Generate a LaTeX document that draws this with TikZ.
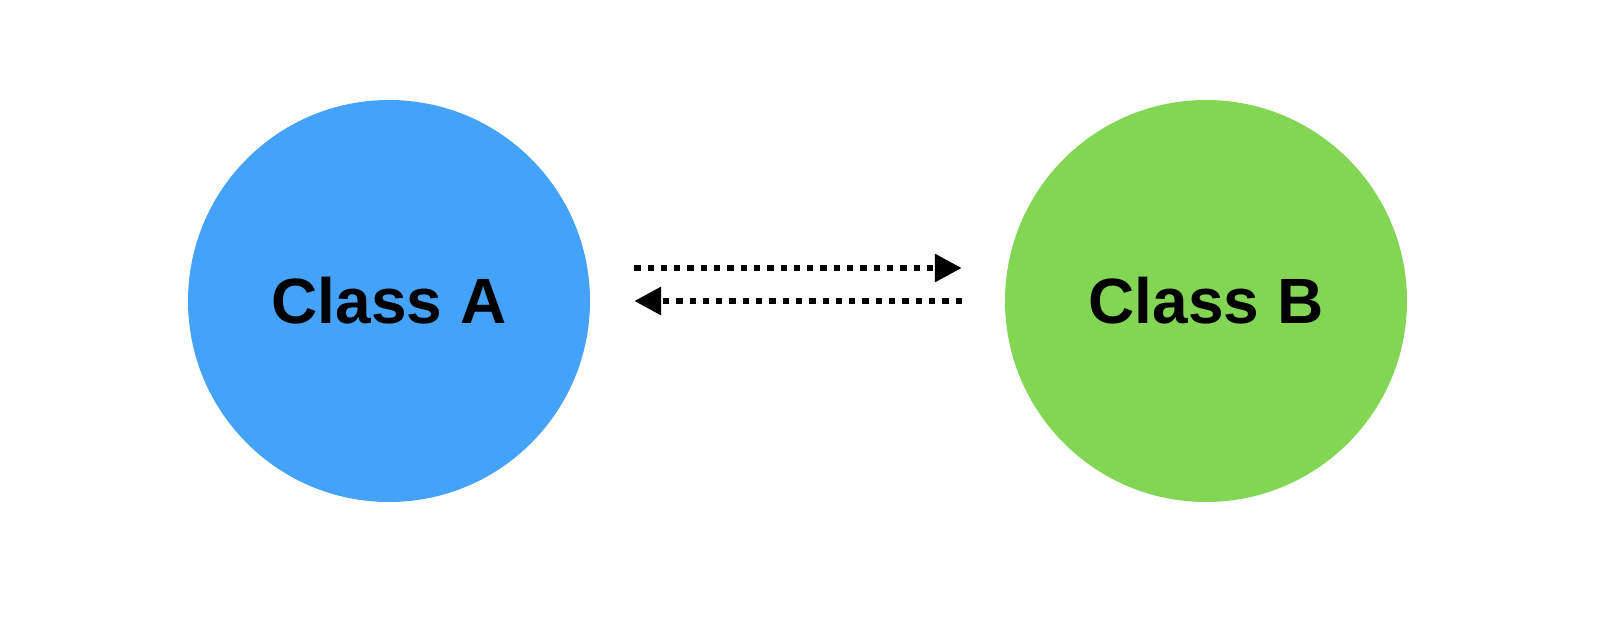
\documentclass[tikz,border=0pt]{standalone}
\usepackage{fontspec}
\setmainfont{Liberation Sans}
\usetikzlibrary{arrows.meta}
\definecolor{blueA}{RGB}{68,162,248}
\definecolor{greenB}{RGB}{131,214,84}
\tikzset{
  classnode/.style={circle, minimum size=402pt, inner sep=0pt, draw=none,
    font=\fontsize{64}{70}\selectfont\bfseries, text=black},
  dotlink/.style={line width=6.2pt, dash pattern=on 6.3pt off 7pt,
    -{Triangle[length=27pt,width=27pt]}}
}
\begin{document}
\begin{tikzpicture}[x=1pt,y=-1pt]
\useasboundingbox (0,0) rectangle (1606,622);
\node[classnode, fill=blueA] (A) at (389,301) {Class A};
\node[classnode, fill=greenB] (B) at (1206,301) {Class B};
\draw[dotlink] ([shift={(44pt,33pt)}]A.east) -- ([shift={(-43pt,33pt)}]B.west);
\draw[dotlink] ([shift={(-43pt,0pt)}]B.west) -- ([shift={(44pt,0pt)}]A.east);
\end{tikzpicture}
\end{document}
